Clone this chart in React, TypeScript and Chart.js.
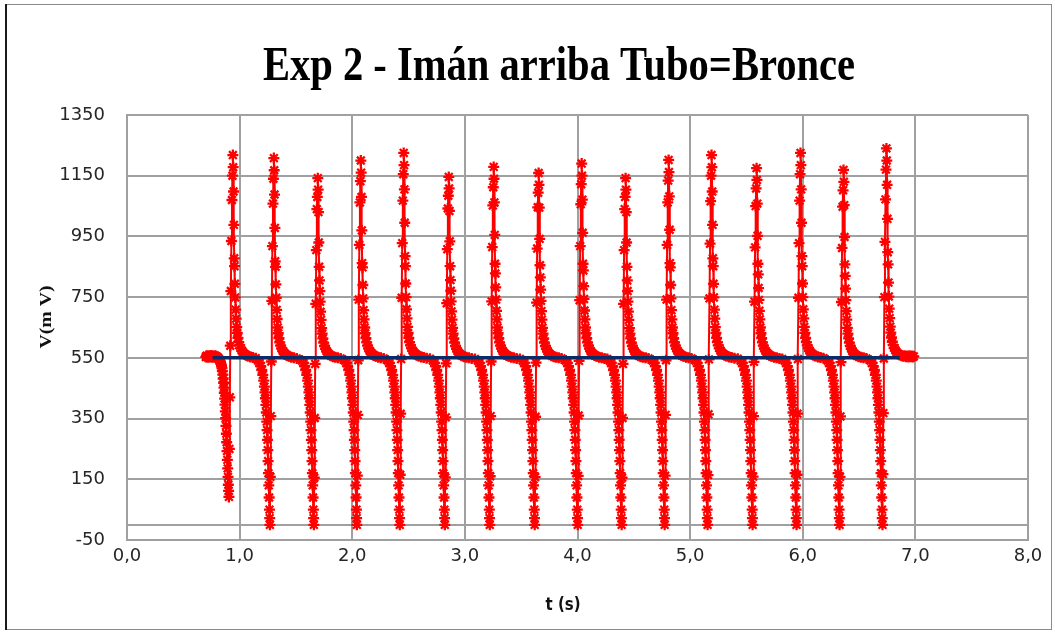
import React, { useEffect, useRef } from 'react';
import { Chart, registerables } from 'chart.js';

Chart.register(...registerables);

const chartTitle = 'Exp 2 - Imán arriba Tubo=Bronce';
const xAxisTitle = 't (s)';
const yAxisTitle = 'V(m V)';
const xTicks = [0, 1, 2, 3, 4, 5, 6, 7, 8];
const yTicks = [-50, 150, 350, 550, 750, 950, 1150, 1350];

// Red series: [t (s), V (mV)]
const leadIn: [number, number][] = [
  [0.700, 553], [0.706, 557], [0.711, 555], [0.717, 552], [0.722, 556], [0.728, 554], [0.733, 557], [0.739, 553],
  [0.744, 555], [0.750, 558], [0.755, 552], [0.761, 555], [0.766, 556], [0.772, 553], [0.777, 554], [0.783, 557],
  [0.788, 551], [0.794, 555], [0.799, 553], [0.805, 551], [0.810, 549], [0.815, 547], [0.820, 544], [0.825, 540],
  [0.830, 536], [0.835, 530], [0.839, 524], [0.843, 516], [0.847, 506], [0.851, 495], [0.854, 482], [0.858, 468],
  [0.861, 452], [0.864, 435], [0.867, 416], [0.870, 396], [0.873, 374], [0.876, 351], [0.879, 326], [0.882, 300],
  [0.885, 272], [0.888, 243], [0.891, 214], [0.894, 186], [0.897, 158], [0.900, 132], [0.902, 112],
];
const pulse01: [number, number][] = [
  [0.905, 92], [0.909, 250], [0.913, 420], [0.917, 590], [0.922, 770], [0.927, 935], [0.932, 1070], [0.936, 1150],
  [0.940, 1218], [0.943, 1178], [0.946, 1098], [0.949, 988], [0.952, 878], [0.955, 852], [0.958, 794], [0.961, 749],
  [0.965, 709], [0.969, 679], [0.974, 651], [0.979, 632], [0.985, 616], [0.992, 602], [1.000, 591], [1.009, 582],
  [1.019, 574], [1.030, 568], [1.043, 563], [1.058, 559], [1.075, 556], [1.095, 553], [1.118, 551], [1.143, 549],
  [1.164, 541], [1.176, 533], [1.187, 523], [1.197, 510], [1.206, 494], [1.214, 475], [1.220, 455], [1.225, 436],
  [1.229, 417], [1.233, 395], [1.237, 370], [1.241, 340], [1.244, 312], [1.247, 280], [1.250, 246], [1.253, 210],
  [1.256, 170], [1.259, 130], [1.262, 90], [1.265, 50], [1.267, 22],
];
const pulse02: [number, number][] = [
  [1.269, 0], [1.273, 158], [1.277, 358], [1.281, 538], [1.286, 738], [1.291, 918], [1.296, 1058], [1.300, 1140],
  [1.304, 1208], [1.307, 1168], [1.310, 1088], [1.313, 978], [1.316, 868], [1.319, 850], [1.322, 792], [1.325, 748],
  [1.329, 708], [1.333, 678], [1.338, 650], [1.343, 631], [1.349, 615], [1.356, 601], [1.364, 590], [1.373, 581],
  [1.383, 573], [1.394, 567], [1.407, 562], [1.422, 558], [1.439, 555], [1.459, 552], [1.482, 550], [1.507, 548],
  [1.554, 541], [1.566, 533], [1.577, 523], [1.587, 510], [1.596, 494], [1.604, 475], [1.610, 455], [1.615, 436],
  [1.619, 417], [1.623, 395], [1.627, 370], [1.631, 340], [1.634, 312], [1.637, 280], [1.640, 246], [1.643, 210],
  [1.646, 170], [1.649, 130], [1.652, 90], [1.655, 50], [1.657, 22],
];
const pulse03: [number, number][] = [
  [1.659, 0], [1.663, 155], [1.667, 352], [1.671, 530], [1.676, 728], [1.681, 905], [1.686, 1040], [1.690, 1080],
  [1.694, 1142], [1.697, 1104], [1.700, 1030], [1.703, 930], [1.706, 850], [1.709, 805], [1.712, 770], [1.715, 735],
  [1.719, 702], [1.723, 675], [1.728, 648], [1.733, 630], [1.739, 614], [1.746, 600], [1.754, 589], [1.763, 580],
  [1.773, 572], [1.784, 566], [1.797, 561], [1.812, 557], [1.829, 554], [1.849, 552], [1.872, 550], [1.897, 548],
  [1.936, 541], [1.948, 533], [1.959, 523], [1.969, 510], [1.978, 494], [1.986, 475], [1.992, 455], [1.997, 436],
  [2.001, 417], [2.005, 395], [2.009, 370], [2.013, 340], [2.016, 312], [2.019, 280], [2.022, 246], [2.025, 210],
  [2.028, 170], [2.031, 130], [2.034, 90], [2.037, 50], [2.039, 22],
];
const pulse04: [number, number][] = [
  [2.041, 0], [2.045, 162], [2.049, 362], [2.053, 542], [2.058, 742], [2.063, 922], [2.068, 1062], [2.072, 1132],
  [2.076, 1200], [2.079, 1160], [2.082, 1080], [2.085, 970], [2.088, 862], [2.091, 848], [2.094, 790], [2.097, 746],
  [2.101, 707], [2.105, 677], [2.110, 650], [2.115, 631], [2.121, 615], [2.128, 601], [2.136, 590], [2.145, 581],
  [2.155, 573], [2.166, 567], [2.179, 562], [2.194, 558], [2.211, 555], [2.231, 552], [2.254, 550], [2.279, 548],
  [2.317, 541], [2.329, 533], [2.340, 523], [2.350, 510], [2.359, 494], [2.367, 475], [2.373, 455], [2.378, 436],
  [2.382, 417], [2.386, 395], [2.390, 370], [2.394, 340], [2.397, 312], [2.400, 280], [2.403, 246], [2.406, 210],
  [2.409, 170], [2.412, 130], [2.415, 90], [2.418, 50], [2.420, 22],
];
const pulse05: [number, number][] = [
  [2.422, 0], [2.426, 165], [2.430, 366], [2.434, 546], [2.439, 748], [2.444, 928], [2.449, 1068], [2.453, 1155],
  [2.457, 1225], [2.460, 1185], [2.463, 1105], [2.466, 995], [2.469, 885], [2.472, 852], [2.475, 795], [2.478, 750],
  [2.482, 710], [2.486, 680], [2.491, 652], [2.496, 632], [2.502, 616], [2.509, 602], [2.517, 591], [2.526, 582],
  [2.536, 574], [2.547, 568], [2.560, 563], [2.575, 559], [2.592, 556], [2.612, 553], [2.635, 551], [2.660, 549],
  [2.690, 547],
  [2.717, 541], [2.729, 533], [2.740, 523], [2.750, 510], [2.759, 494], [2.767, 475], [2.773, 455], [2.778, 436],
  [2.782, 417], [2.786, 395], [2.790, 370], [2.794, 340], [2.797, 312], [2.800, 280], [2.803, 246], [2.806, 210],
  [2.809, 170], [2.812, 130], [2.815, 90], [2.818, 50], [2.820, 22],
];
const pulse06: [number, number][] = [
  [2.822, 0], [2.826, 156], [2.830, 354], [2.834, 532], [2.839, 730], [2.844, 908], [2.849, 1042], [2.853, 1084],
  [2.857, 1146], [2.860, 1108], [2.863, 1034], [2.866, 934], [2.869, 852], [2.872, 806], [2.875, 771], [2.878, 736],
  [2.882, 703], [2.886, 676], [2.891, 649], [2.896, 630], [2.902, 614], [2.909, 600], [2.917, 589], [2.926, 580],
  [2.936, 572], [2.947, 566], [2.960, 561], [2.975, 557], [2.992, 554], [3.012, 552], [3.035, 550], [3.060, 548],
  [3.090, 546],
  [3.116, 541], [3.128, 533], [3.139, 523], [3.149, 510], [3.158, 494], [3.166, 475], [3.172, 455], [3.177, 436],
  [3.181, 417], [3.185, 395], [3.189, 370], [3.193, 340], [3.196, 312], [3.199, 280], [3.202, 246], [3.205, 210],
  [3.208, 170], [3.211, 130], [3.214, 90], [3.217, 50], [3.219, 22],
];
const pulse07: [number, number][] = [
  [3.221, 0], [3.225, 160], [3.229, 358], [3.233, 538], [3.238, 736], [3.243, 915], [3.248, 1052], [3.252, 1112],
  [3.256, 1179], [3.259, 1140], [3.262, 1062], [3.265, 955], [3.268, 860], [3.271, 828], [3.274, 782], [3.277, 742],
  [3.281, 705], [3.285, 677], [3.290, 650], [3.295, 631], [3.301, 615], [3.308, 601], [3.316, 590], [3.325, 581],
  [3.335, 573], [3.346, 567], [3.359, 562], [3.374, 558], [3.391, 555], [3.411, 552], [3.434, 550], [3.459, 548],
  [3.489, 546],
  [3.515, 541], [3.527, 533], [3.538, 523], [3.548, 510], [3.557, 494], [3.565, 475], [3.571, 455], [3.576, 436],
  [3.580, 417], [3.584, 395], [3.588, 370], [3.592, 340], [3.595, 312], [3.598, 280], [3.601, 246], [3.604, 210],
  [3.607, 170], [3.610, 130], [3.613, 90], [3.616, 50], [3.618, 22],
];
const pulse08: [number, number][] = [
  [3.620, 0], [3.624, 157], [3.628, 356], [3.632, 534], [3.637, 732], [3.642, 910], [3.647, 1046], [3.651, 1094],
  [3.655, 1159], [3.658, 1120], [3.661, 1045], [3.664, 942], [3.667, 855], [3.670, 815], [3.673, 775], [3.676, 738],
  [3.680, 704], [3.684, 676], [3.689, 649], [3.694, 630], [3.700, 614], [3.707, 600], [3.715, 589], [3.724, 580],
  [3.734, 572], [3.745, 566], [3.758, 561], [3.773, 557], [3.790, 554], [3.810, 552], [3.833, 550], [3.858, 548],
  [3.897, 541], [3.909, 533], [3.920, 523], [3.930, 510], [3.939, 494], [3.947, 475], [3.953, 455], [3.958, 436],
  [3.962, 417], [3.966, 395], [3.970, 370], [3.974, 340], [3.977, 312], [3.980, 280], [3.983, 246], [3.986, 210],
  [3.989, 170], [3.992, 130], [3.995, 90], [3.998, 50], [4.000, 22],
];
const pulse09: [number, number][] = [
  [4.002, 0], [4.006, 161], [4.010, 360], [4.014, 540], [4.019, 740], [4.024, 918], [4.029, 1056], [4.033, 1122],
  [4.037, 1190], [4.040, 1150], [4.043, 1071], [4.046, 962], [4.049, 860], [4.052, 838], [4.055, 786], [4.058, 744],
  [4.062, 706], [4.066, 677], [4.071, 650], [4.076, 631], [4.082, 615], [4.089, 601], [4.097, 590], [4.106, 581],
  [4.116, 573], [4.127, 567], [4.140, 562], [4.155, 558], [4.172, 555], [4.192, 552], [4.215, 550], [4.240, 548],
  [4.264, 546],
  [4.287, 541], [4.299, 533], [4.310, 523], [4.320, 510], [4.329, 494], [4.337, 475], [4.343, 455], [4.348, 436],
  [4.352, 417], [4.356, 395], [4.360, 370], [4.364, 340], [4.367, 312], [4.370, 280], [4.373, 246], [4.376, 210],
  [4.379, 170], [4.382, 130], [4.385, 90], [4.388, 50], [4.390, 22],
];
const pulse10: [number, number][] = [
  [4.392, 0], [4.396, 155], [4.400, 352], [4.404, 530], [4.409, 728], [4.414, 905], [4.419, 1040], [4.423, 1080],
  [4.427, 1142], [4.430, 1104], [4.433, 1030], [4.436, 930], [4.439, 850], [4.442, 805], [4.445, 770], [4.448, 735],
  [4.452, 702], [4.456, 675], [4.461, 648], [4.466, 630], [4.472, 614], [4.479, 600], [4.487, 589], [4.496, 580],
  [4.506, 572], [4.517, 566], [4.530, 561], [4.545, 557], [4.562, 554], [4.582, 552], [4.605, 550], [4.630, 548],
  [4.669, 541], [4.681, 533], [4.692, 523], [4.702, 510], [4.711, 494], [4.719, 475], [4.725, 455], [4.730, 436],
  [4.734, 417], [4.738, 395], [4.742, 370], [4.746, 340], [4.749, 312], [4.752, 280], [4.755, 246], [4.758, 210],
  [4.761, 170], [4.764, 130], [4.767, 90], [4.770, 50], [4.772, 22],
];
const pulse11: [number, number][] = [
  [4.774, 0], [4.778, 162], [4.782, 362], [4.786, 542], [4.791, 742], [4.796, 922], [4.801, 1062], [4.805, 1134],
  [4.809, 1202], [4.812, 1162], [4.815, 1082], [4.818, 972], [4.821, 862], [4.824, 848], [4.827, 790], [4.830, 746],
  [4.834, 707], [4.838, 677], [4.843, 650], [4.848, 631], [4.854, 615], [4.861, 601], [4.869, 590], [4.878, 581],
  [4.888, 573], [4.899, 567], [4.912, 562], [4.927, 558], [4.944, 555], [4.964, 552], [4.987, 550], [5.012, 548],
  [5.050, 541], [5.062, 533], [5.073, 523], [5.083, 510], [5.092, 494], [5.100, 475], [5.106, 455], [5.111, 436],
  [5.115, 417], [5.119, 395], [5.123, 370], [5.127, 340], [5.130, 312], [5.133, 280], [5.136, 246], [5.139, 210],
  [5.142, 170], [5.145, 130], [5.148, 90], [5.151, 50], [5.153, 22],
];
const pulse12: [number, number][] = [
  [5.155, 0], [5.159, 164], [5.163, 364], [5.167, 545], [5.172, 746], [5.177, 926], [5.182, 1066], [5.186, 1150],
  [5.190, 1218], [5.193, 1178], [5.196, 1098], [5.199, 988], [5.202, 878], [5.205, 852], [5.208, 794], [5.211, 749],
  [5.215, 709], [5.219, 679], [5.224, 651], [5.229, 632], [5.235, 616], [5.242, 602], [5.250, 591], [5.259, 582],
  [5.269, 574], [5.280, 568], [5.293, 563], [5.308, 559], [5.325, 556], [5.345, 553], [5.368, 551], [5.393, 549],
  [5.423, 547],
  [5.450, 541], [5.462, 533], [5.473, 523], [5.483, 510], [5.492, 494], [5.500, 475], [5.506, 455], [5.511, 436],
  [5.515, 417], [5.519, 395], [5.523, 370], [5.527, 340], [5.530, 312], [5.533, 280], [5.536, 246], [5.539, 210],
  [5.542, 170], [5.545, 130], [5.548, 90], [5.551, 50], [5.553, 22],
];
const pulse13: [number, number][] = [
  [5.555, 0], [5.559, 159], [5.563, 358], [5.567, 537], [5.572, 735], [5.577, 914], [5.582, 1050], [5.586, 1108],
  [5.590, 1175], [5.593, 1136], [5.596, 1058], [5.599, 952], [5.602, 860], [5.605, 825], [5.608, 780], [5.611, 741],
  [5.615, 705], [5.619, 677], [5.624, 650], [5.629, 631], [5.635, 615], [5.642, 601], [5.650, 590], [5.659, 581],
  [5.669, 573], [5.680, 567], [5.693, 562], [5.708, 558], [5.725, 555], [5.745, 552], [5.768, 550], [5.793, 548],
  [5.818, 546],
  [5.840, 541], [5.852, 533], [5.863, 523], [5.873, 510], [5.882, 494], [5.890, 475], [5.896, 455], [5.901, 436],
  [5.905, 417], [5.909, 395], [5.913, 370], [5.917, 340], [5.920, 312], [5.923, 280], [5.926, 246], [5.929, 210],
  [5.932, 170], [5.935, 130], [5.938, 90], [5.941, 50], [5.943, 22],
];
const pulse14: [number, number][] = [
  [5.945, 0], [5.949, 165], [5.953, 366], [5.957, 546], [5.962, 748], [5.967, 928], [5.972, 1068], [5.976, 1155],
  [5.980, 1225], [5.983, 1185], [5.986, 1105], [5.989, 995], [5.992, 885], [5.995, 852], [5.998, 795], [6.001, 750],
  [6.005, 710], [6.009, 680], [6.014, 652], [6.019, 632], [6.025, 616], [6.032, 602], [6.040, 591], [6.049, 582],
  [6.059, 574], [6.070, 568], [6.083, 563], [6.098, 559], [6.115, 556], [6.135, 553], [6.158, 551], [6.183, 549],
  [6.222, 541], [6.234, 533], [6.245, 523], [6.255, 510], [6.264, 494], [6.272, 475], [6.278, 455], [6.283, 436],
  [6.287, 417], [6.291, 395], [6.295, 370], [6.299, 340], [6.302, 312], [6.305, 280], [6.308, 246], [6.311, 210],
  [6.314, 170], [6.317, 130], [6.320, 90], [6.323, 50], [6.325, 22],
];
const pulse15: [number, number][] = [
  [6.327, 0], [6.331, 158], [6.335, 357], [6.339, 536], [6.344, 734], [6.349, 912], [6.354, 1048], [6.358, 1102],
  [6.362, 1169], [6.365, 1130], [6.368, 1053], [6.371, 948], [6.374, 858], [6.377, 820], [6.380, 778], [6.383, 740],
  [6.387, 704], [6.391, 676], [6.396, 649], [6.401, 630], [6.407, 614], [6.414, 600], [6.422, 589], [6.431, 580],
  [6.441, 572], [6.452, 566], [6.465, 561], [6.480, 557], [6.497, 554], [6.517, 552], [6.540, 550], [6.565, 548],
  [6.603, 541], [6.615, 533], [6.626, 523], [6.636, 510], [6.645, 494], [6.653, 475], [6.659, 455], [6.664, 436],
  [6.668, 417], [6.672, 395], [6.676, 370], [6.680, 340], [6.683, 312], [6.686, 280], [6.689, 246], [6.692, 210],
  [6.695, 170], [6.698, 130], [6.701, 90], [6.704, 50], [6.706, 22],
];
const pulse16: [number, number][] = [
  [6.708, 0], [6.712, 167], [6.716, 368], [6.720, 548], [6.725, 750], [6.730, 932], [6.735, 1072], [6.739, 1170],
  [6.743, 1240], [6.746, 1200], [6.749, 1120], [6.752, 1008], [6.755, 898], [6.758, 858], [6.761, 798], [6.764, 752],
  [6.768, 712], [6.772, 681], [6.777, 653], [6.782, 633], [6.788, 617], [6.795, 603], [6.803, 592], [6.812, 583],
  [6.822, 575], [6.833, 569], [6.846, 564], [6.861, 560], [6.878, 557], [6.892, 555], [6.905, 557], [6.916, 554],
  [6.927, 556], [6.938, 553], [6.948, 557], [6.958, 554], [6.968, 556], [6.977, 553], [6.986, 555],
];

// Navy reference line
const refLineT = [0.76, 6.86];
const refLineV = [550, 550];

const gridColor = '#a0a0a0';

function drawText(
  ctx: CanvasRenderingContext2D, text: string, x: number, y: number, font: string,
  sx: number, sy: number, rot: number, color: string,
) {
  ctx.save();
  ctx.translate(x, y);
  ctx.rotate(rot);
  ctx.scale(sx, sy);
  ctx.font = font;
  ctx.fillStyle = color;
  ctx.textAlign = 'center';
  ctx.textBaseline = 'middle';
  ctx.fillText(text, 0, 0);
  ctx.restore();
}

const decor = {
  id: 'decor',
  beforeDraw(chart: any) {
    const ctx = chart.ctx as CanvasRenderingContext2D;
    ctx.save();
    ctx.fillStyle = '#ffffff';
    ctx.fillRect(0, 0, chart.width, chart.height);
    ctx.strokeStyle = '#8a8a8a';
    ctx.lineWidth = 1;
    ctx.strokeRect(6.5, 4.5, 1045, 625);
    ctx.fillStyle = '#1a1a1a';
    ctx.fillRect(5, 4, 2, 626);
    ctx.restore();
  },
  beforeDatasetsDraw(chart: any) {
    const { ctx, chartArea, scales } = chart;
    const y0 = Math.round(scales.y.getPixelForValue(0));
    ctx.save();
    ctx.strokeStyle = gridColor;
    ctx.lineWidth = 2;
    ctx.beginPath();
    ctx.moveTo(chartArea.left, y0);
    ctx.lineTo(chartArea.right, y0);
    ctx.stroke();
    ctx.restore();
  },
  afterDraw(chart: any) {
    const ctx = chart.ctx as CanvasRenderingContext2D;
    ctx.save();
    ctx.translate(559, 80);
    ctx.scale(0.845, 1);
    ctx.font = 'bold 48px "Liberation Serif", "DejaVu Serif", serif';
    ctx.fillStyle = '#000000';
    ctx.textAlign = 'center';
    ctx.textBaseline = 'alphabetic';
    ctx.fillText(chartTitle, 0, 0);
    ctx.restore();
    drawText(ctx, yAxisTitle, 47, 317, 'bold 17px "Liberation Serif", serif', 1.16, 1, -Math.PI / 2, '#111111');
    drawText(ctx, xAxisTitle, 563, 605, 'bold 15px "DejaVu Sans", sans-serif', 1, 1.18, 0, '#111111');
  },
};

export default function App() {
  const canvasRef = useRef<HTMLCanvasElement | null>(null);

  useEffect(() => {
    if (!canvasRef.current) return;
    const pulses = [leadIn, pulse01, pulse02, pulse03, pulse04, pulse05, pulse06, pulse07, pulse08,
      pulse09, pulse10, pulse11, pulse12, pulse13, pulse14, pulse15, pulse16];
    const signal = pulses.flat().map(([x, y]) => ({ x, y }));
    const refLine = refLineT.map((x, i) => ({ x, y: refLineV[i] }));
    const tickFont = { family: '"DejaVu Sans", sans-serif', size: 18 };

    const chart = new Chart(canvasRef.current, {
      type: 'scatter',
      data: {
        datasets: [
          {
            label: 'ref',
            data: refLine,
            showLine: true,
            borderColor: '#0b2a66',
            borderWidth: 3.5,
            pointRadius: 0,
          },
          {
            label: 'V',
            data: signal,
            showLine: true,
            borderColor: '#ff0000',
            borderWidth: 2,
            pointStyle: 'star',
            pointRadius: 5.5,
            pointBorderColor: '#ff0000',
            pointBackgroundColor: '#ff0000',
            pointBorderWidth: 2.3,
            tension: 0,
          },
        ],
      },
      options: {
        responsive: false,
        devicePixelRatio: 1,
        animation: false,
        events: [],
        layout: { padding: { left: 0, top: 115, right: 27, bottom: 0 } },
        plugins: {
          legend: { display: false },
          tooltip: { enabled: false },
          title: { display: false },
        },
        scales: {
          x: {
            type: 'linear',
            min: 0,
            max: 8,
            afterBuildTicks: (s: any) => { s.ticks = xTicks.map((v) => ({ value: v })); },
            afterFit: (s: any) => { s.height = 93; },
            ticks: {
              callback: (v: any) => Number(v).toFixed(1).replace('.', ','),
              font: tickFont,
              color: '#262626',
              padding: 6,
              maxRotation: 0,
              autoSkip: false,
            },
            grid: { color: gridColor, lineWidth: 2, drawTicks: false },
            border: { display: true, color: gridColor, width: 2 },
          },
          y: {
            type: 'linear',
            min: -50,
            max: 1350,
            afterBuildTicks: (s: any) => { s.ticks = yTicks.map((v) => ({ value: v })); },
            afterFit: (s: any) => { s.width = 127; },
            ticks: {
              callback: (v: any) => String(v),
              font: tickFont,
              color: '#262626',
              padding: 22,
              autoSkip: false,
            },
            grid: { color: gridColor, lineWidth: 2, drawTicks: false },
            border: { display: true, color: gridColor, width: 2 },
          },
        },
      },
      plugins: [decor],
    });
    return () => chart.destroy();
  }, []);

  return (
    <div style={{ position: 'fixed', left: 0, top: 0, width: 1055, height: 633, background: '#fff' }}>
      <canvas ref={canvasRef} width={1055} height={633} style={{ display: 'block' }} />
    </div>
  );
}
